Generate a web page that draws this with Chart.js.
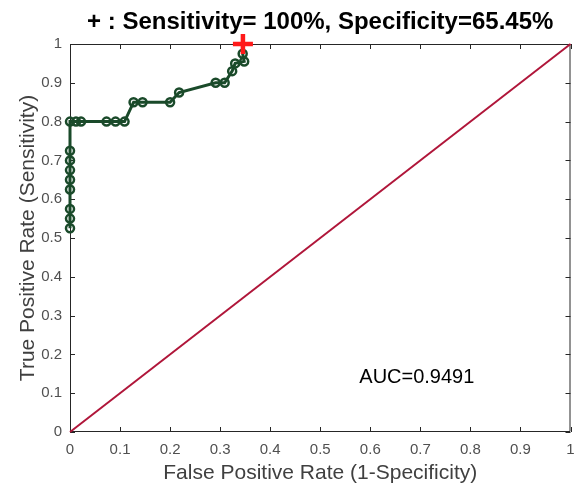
<!DOCTYPE html>
<html>
<head>
<meta charset="utf-8">
<script src="https://cdn.jsdelivr.net/npm/chart.js@4.4.1/dist/chart.umd.min.js"></script>
<style>
  html, body { margin: 0; padding: 0; background: #fff; }
  #wrap { width: 585px; height: 487px; }
</style>
</head>
<body>
<div id="wrap"><canvas id="roc" width="585" height="487"></canvas></div>
<script>
// ROC curve (1-specificity, sensitivity)
const rocFpr  = [0, 0, 0, 0, 0, 0, 0, 0, 0,
                 0.012, 0.022, 0.073, 0.091, 0.109, 0.127, 0.145, 0.200, 0.218,
                 0.291, 0.309, 0.324, 0.330, 0.348, 0.345];
const rocTpr  = [0.525, 0.55, 0.575, 0.625, 0.65, 0.675, 0.70, 0.725, 0.80,
                 0.80, 0.80, 0.80, 0.80, 0.80, 0.85, 0.85, 0.85, 0.875,
                 0.90, 0.90, 0.93, 0.95, 0.955, 0.975];
// chance line
const diagX = [0, 1];
const diagY = [0, 1];
// optimal operating point
const bestX = [0.3455];
const bestY = [1.0];

const titleText = '+ : Sensitivity= 100%, Specificity=65.45%';
const aucText = 'AUC=0.9491';
const xTitle = 'False Positive Rate (1-Specificity)';
const yTitle = 'True Positive Rate (Sensitivity)';

const FONT = '"Liberation Sans", Arial, sans-serif';
const toPts = (xs, ys) => xs.map((x, i) => ({ x: x, y: ys[i] }));
const fmtTick = v => String(Math.round(v * 10) / 10);

// box and inward ticks under the data, title and AUC label on top
const decor = {
    id: 'decor',
    beforeDatasetsDraw(chart) {
        const ctx = chart.ctx;
        const a = chart.chartArea;
        const xs = chart.scales.x, ys = chart.scales.y;
        ctx.save();
        ctx.strokeStyle = '#262626';
        ctx.lineWidth = 1;
        ctx.beginPath();
        ctx.rect(a.left + 0.5, a.top + 0.5, a.right - a.left - 1, a.bottom - a.top - 1);
        ctx.stroke();
        const tl = 5;
        ctx.beginPath();
        xs.ticks.forEach(t => {
            const p = Math.round(xs.getPixelForValue(t.value)) + 0.5;
            ctx.moveTo(p, a.bottom); ctx.lineTo(p, a.bottom - tl);
            ctx.moveTo(p, a.top); ctx.lineTo(p, a.top + tl);
        });
        ys.ticks.forEach(t => {
            const p = Math.round(ys.getPixelForValue(t.value)) + 0.5;
            ctx.moveTo(a.left, p); ctx.lineTo(a.left + tl, p);
            ctx.moveTo(a.right, p); ctx.lineTo(a.right - tl, p);
        });
        ctx.stroke();
        ctx.restore();
    },
    afterDraw(chart) {
        const ctx = chart.ctx;
        const a = chart.chartArea;
        const xs = chart.scales.x, ys = chart.scales.y;
        ctx.save();
        ctx.fillStyle = '#000';
        ctx.textAlign = 'center';
        ctx.textBaseline = 'alphabetic';
        ctx.font = 'bold 24px ' + FONT;
        ctx.fillText(titleText, (a.left + a.right) / 2, 29);

        ctx.textAlign = 'left';
        ctx.font = '20px ' + FONT;
        ctx.fillText(aucText, xs.getPixelForValue(0.578), ys.getPixelForValue(0.127));
        ctx.restore();
    }
};

new Chart(document.getElementById('roc'), {
    type: 'scatter',
    data: {
        datasets: [
            {
                label: 'best',
                data: toPts(bestX, bestY),
                pointStyle: 'cross',
                radius: 10,
                borderWidth: 4.5,
                borderColor: '#ff1a1a',
                showLine: false,
                clip: false
            },
            {
                label: 'roc',
                data: toPts(rocFpr, rocTpr),
                showLine: true,
                clip: false,
                borderColor: '#1a4a2a',
                borderWidth: 3,
                pointRadius: 4,
                pointBorderWidth: 2.5,
                pointBorderColor: '#1a4a2a',
                pointBackgroundColor: 'rgba(255,255,255,0)'
            },
            {
                label: 'chance',
                data: toPts(diagX, diagY),
                showLine: true,
                clip: false,
                borderColor: '#b0163a',
                borderWidth: 2,
                pointRadius: 0
            }
        ]
    },
    options: {
        responsive: false,
        animation: false,
        layout: { padding: { top: 44, right: 12, left: 0, bottom: 0 } },
        plugins: {
            legend: { display: false },
            tooltip: { enabled: false }
        },
        scales: {
            x: {
                type: 'linear',
                min: 0, max: 1,
                afterFit: s => { s.height = 55; },
                border: { display: false },
                grid: { display: false, drawTicks: false },
                ticks: {
                    stepSize: 0.1,
                    padding: 9,
                    color: '#505050',
                    callback: fmtTick,
                    font: { family: FONT, size: 15 },
                    maxRotation: 0
                },
                title: {
                    display: true,
                    text: xTitle,
                    color: '#404040',
                    padding: { top: 3, bottom: 1 },
                    font: { family: FONT, size: 21 }
                }
            },
            y: {
                type: 'linear',
                min: 0, max: 1,
                afterFit: s => { s.width = 70; },
                border: { display: false },
                grid: { display: false, drawTicks: false },
                ticks: {
                    stepSize: 0.1,
                    padding: 8,
                    color: '#505050',
                    callback: fmtTick,
                    font: { family: FONT, size: 15 }
                },
                title: {
                    display: true,
                    text: yTitle,
                    color: '#404040',
                    padding: { top: 16, bottom: 0 },
                    font: { family: FONT, size: 21 }
                }
            }
        }
    },
    plugins: [decor]
});
</script>
</body>
</html>
